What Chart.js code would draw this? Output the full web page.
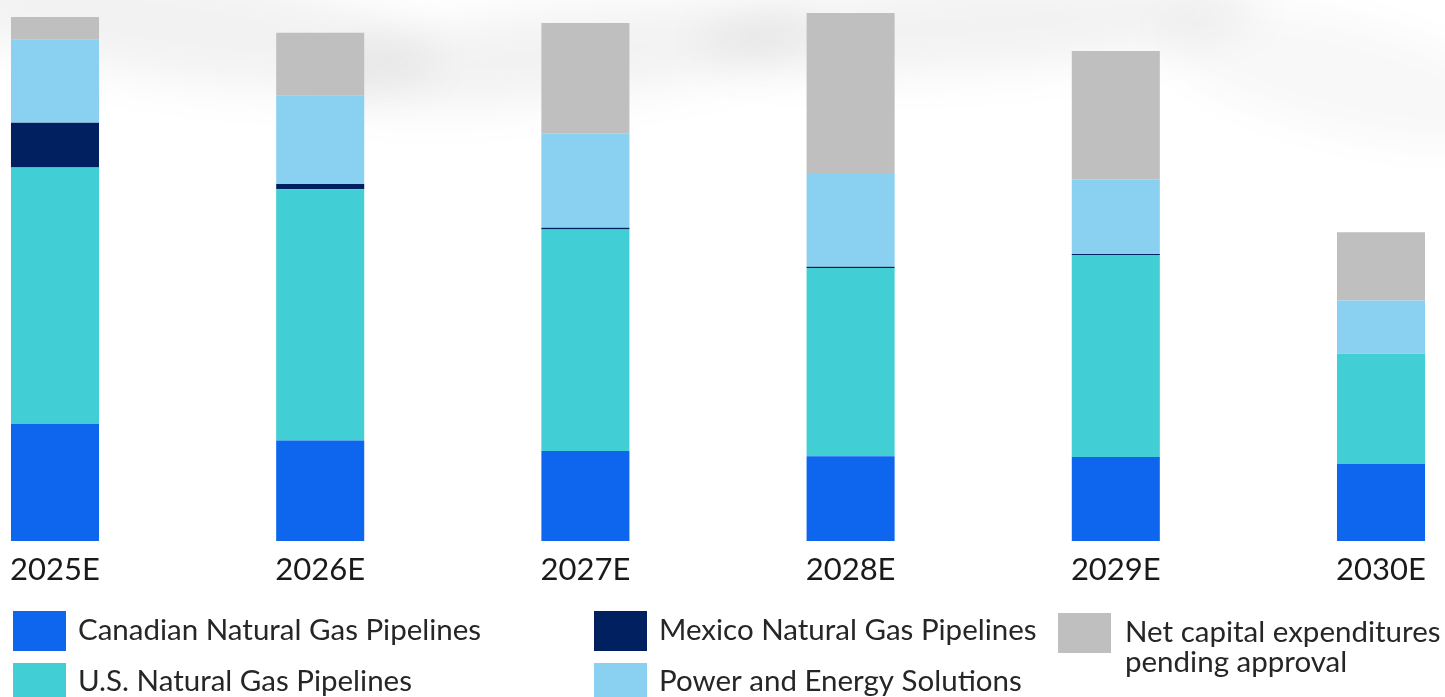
<!DOCTYPE html>
<html>
<head>
<meta charset="utf-8">
<script src="https://cdn.jsdelivr.net/npm/chart.js@4/dist/chart.umd.min.js"></script>
<style>
  html, body { margin: 0; padding: 0; background: #ffffff; }
  #wrap { position: relative; width: 1445px; height: 697px; overflow: hidden; background: #ffffff; }
  .haze { position: absolute; border-radius: 50%; background: rgba(0,0,0,0.05); filter: blur(22px); }
  #c { position: absolute; left: 0; top: 0; }
</style>
</head>
<body>
<div id="wrap">
  <!-- soft grey swoosh behind the bars -->
  <div class="haze" style="left:-80px;top:-30px;width:520px;height:110px;transform:rotate(8deg);"></div>
  <div class="haze" style="left:300px;top:10px;width:520px;height:90px;transform:rotate(-6deg);"></div>
  <div class="haze" style="left:700px;top:-20px;width:560px;height:90px;transform:rotate(-4deg);"></div>
  <div class="haze" style="left:1150px;top:20px;width:380px;height:110px;transform:rotate(14deg);opacity:0.6;"></div>
  <canvas id="c" width="1445" height="697"></canvas>
</div>
<script>
// Capital programme outlook by segment (stacked)
const years = ['2025E', '2026E', '2027E', '2028E', '2029E', '2030E'];

const canadianPipelines = [1.34, 1.15, 1.03, 0.97, 0.96, 0.88];
const usPipelines       = [2.93, 2.87, 2.53, 2.15, 2.31, 1.26];
const mexicoPipelines   = [0.51, 0.06, 0.02, 0.015, 0.01, 0];
const powerEnergy       = [0.95, 1.01, 1.08, 1.07, 0.85, 0.61];
const pendingApproval   = [0.26, 0.72, 1.26, 1.83, 1.47, 0.78];

const seriesLabels = [
  'Canadian Natural Gas Pipelines',
  'U.S. Natural Gas Pipelines',
  'Mexico Natural Gas Pipelines',
  'Power and Energy Solutions',
  'Net capital expenditures\npending approval'
];
const seriesColors = ['#0E66EE', '#41CFD5', '#002060', '#8AD0F0', '#BFBFBF'];
const seriesValues = [canadianPipelines, usPipelines, mexicoPipelines, powerEnergy, pendingApproval];

const FONT = 'Lato, "Open Sans", "DejaVu Sans", sans-serif';

// Legend boxes laid out in three columns under the axis
const legendSlots = [
  { bx: 13,   by: 611, tx: 78,   ty: 640 },
  { bx: 13,   by: 663, tx: 78,   ty: 691 },
  { bx: 594,  by: 611, tx: 659,  ty: 640 },
  { bx: 594,  by: 663, tx: 659,  ty: 691 },
  { bx: 1058, by: 613, tx: 1125, ty: 642 }
];

const columnLegend = {
  id: 'columnLegend',
  afterDraw(chart) {
    const ctx = chart.ctx;
    ctx.save();
    chart.data.datasets.forEach((ds, i) => {
      const s = legendSlots[i];
      ctx.fillStyle = ds.backgroundColor;
      ctx.fillRect(s.bx, s.by, 53, 40);
      ctx.fillStyle = '#262626';
      ctx.font = '29.5px ' + FONT;
      ctx.textBaseline = 'alphabetic';
      ctx.textAlign = 'left';
      ds.label.split('\n').forEach((line, k) => {
        ctx.fillText(line, s.tx, s.ty + k * 30);
      });
    });
    ctx.restore();
  }
};

const datasets = seriesValues.map((vals, i) => ({
  label: seriesLabels[i],
  data: vals,
  backgroundColor: seriesColors[i],
  borderWidth: 0,
  barPercentage: 0.332,
  categoryPercentage: 1,
  clip: false
}));

new Chart(document.getElementById('c'), {
  type: 'bar',
  data: { labels: years, datasets },
  options: {
    responsive: false,
    animation: false,
    layout: { padding: { top: 7.25, left: 55, right: 64, bottom: 116 } },
    plugins: { legend: { display: false }, tooltip: { enabled: false } },
    scales: {
      x: {
        stacked: true,
        offset: false,
        grid: { display: false, drawTicks: false },
        border: { display: false },
        ticks: {
          color: '#1a1a1a',
          font: { family: FONT, size: 31 },
          padding: 10,
          maxRotation: 0,
          autoSkip: false
        },
        afterFit(scale) { scale.height = 40; }
      },
      y: {
        stacked: true,
        display: false,
        min: 0,
        max: 6.1
      }
    }
  },
  plugins: [columnLegend]
});
</script>
</body>
</html>
